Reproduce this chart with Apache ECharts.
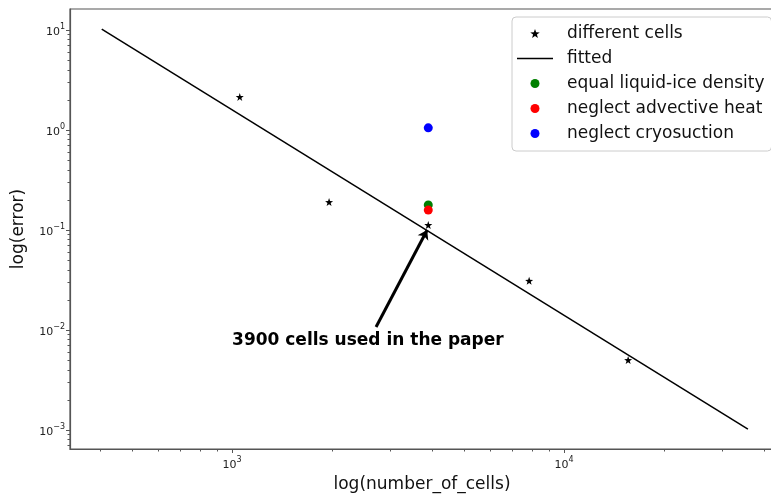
<!DOCTYPE html>
<html>
  <head>
    <meta charset="utf-8" />
    <title>log error vs number of cells</title>
    <script src="https://cdn.jsdelivr.net/npm/echarts@6/dist/echarts.min.js"></script>
  </head>
  <body style="margin: 0">
    <div id="main" style="width: 771px; height: 496px"></div>
    <script>
      // values
      var cellsData = [
        [1055, 2.14],
        [1960, 0.19],
        [3900, 0.112],
        [7850, 0.031],
        [15600, 0.005],
      ];
      var fittedData = [
        [405, 10.2],
        [35800, 0.00102],
      ];
      var equalDensity = [[3900, 0.178]];
      var noAdvective = [[3900, 0.158]];
      var noCryosuction = [[3900, 1.05]];

      // annotation: text anchor and arrow ends (data coords)
      var noteText = "3900 cells used in the paper";
      var noteAt = [1000, 0.007];
      var arrowFrom = [2715, 0.0107];
      var arrowTo = [3870, 0.1];

      // axis range and ticks
      var xRange = [325, 42900];
      var yRange = [0.000646, 16.2];
      var xMajor = [1000, 10000];
      var xMinor = [400, 500, 600, 700, 800, 900, 2000, 3000, 4000, 5000, 6000, 7000, 8000, 9000, 20000, 30000, 40000];
      var yMajor = [0.001, 0.01, 0.1, 1, 10];
      var yMinor = [
        0.0007, 0.0008, 0.0009,
        0.002, 0.003, 0.004, 0.005, 0.006, 0.007, 0.008, 0.009,
        0.02, 0.03, 0.04, 0.05, 0.06, 0.07, 0.08, 0.09,
        0.2, 0.3, 0.4, 0.5, 0.6, 0.7, 0.8, 0.9,
        2, 3, 4, 5, 6, 7, 8, 9,
      ];

      var legendNames = [
        "different cells",
        "fitted",
        "equal liquid-ice density",
        "neglect advective heat",
        "neglect cryosuction",
      ];

      var starPath =
        "path://M0,-10 L2.35,-3.24 L9.51,-3.09 L3.8,1.24 L5.88,8.09 L0,4 L-5.88,8.09 L-3.8,1.24 L-9.51,-3.09 L-2.35,-3.24 Z";
      var lineIcon = "path://M0,0 L36,0 L36,1.6 L0,1.6 Z";
      var font = "DejaVu Sans";
      var frameColor = "#555";

      function powLabel(value) {
        var e = Math.round(Math.log10(value));
        return "{b|10}{s|" + String(e).replace("-", "\u2212") + "}";
      }
      var richTick = {
        b: { fontSize: 11, fontFamily: font, color: "#222", lineHeight: 15, verticalAlign: "bottom" },
        s: { fontSize: 8, fontFamily: font, color: "#222", lineHeight: 9, verticalAlign: "top" },
      };

      var option = {
        animation: false,
        grid: {
          left: 70,
          top: 9,
          right: -3,
          bottom: 47,
          show: true,
          borderColor: frameColor,
          borderWidth: 1.2,
          backgroundColor: "#fff",
          outerBoundsMode: "none",
        },
        legend: {
          orient: "vertical",
          left: 512,
          top: 17,
          padding: [8, 7, 9, 5],
          itemWidth: 36,
          itemHeight: 9,
          itemGap: 8,
          backgroundColor: "#fff",
          borderColor: "#ccc",
          borderWidth: 1,
          borderRadius: 4,
          textStyle: {
            fontFamily: font,
            fontSize: 17,
            color: "#111",
            padding: [0, 0, 0, 9],
          },
          data: [
            { name: legendNames[0], icon: starPath },
            { name: legendNames[1], icon: lineIcon },
            { name: legendNames[2], icon: "circle" },
            { name: legendNames[3], icon: "circle" },
            { name: legendNames[4], icon: "circle" },
          ],
        },
        xAxis: [
          {
            type: "log",
            logBase: 10,
            min: xRange[0],
            max: xRange[1],
            name: "log(number_of_cells)",
            nameLocation: "middle",
            nameGap: 24,
            nameTextStyle: { fontFamily: font, fontSize: 17, color: "#111" },
            axisLine: { lineStyle: { color: frameColor, width: 1.2 } },
            axisTick: { customValues: xMajor, length: 4, lineStyle: { color: frameColor } },
            axisLabel: { customValues: xMajor, margin: 7, formatter: powLabel, rich: richTick },
            splitLine: { show: false },
          },
          {
            type: "log",
            logBase: 10,
            min: xRange[0],
            max: xRange[1],
            position: "bottom",
            axisLine: { show: false },
            axisTick: { customValues: xMinor, length: 2.5, lineStyle: { color: frameColor } },
            axisLabel: { show: false },
            splitLine: { show: false },
          },
        ],
        yAxis: [
          {
            type: "log",
            logBase: 10,
            min: yRange[0],
            max: yRange[1],
            name: "log(error)",
            nameLocation: "middle",
            nameGap: 43,
            nameRotate: 90,
            nameTextStyle: { fontFamily: font, fontSize: 17, color: "#111" },
            axisLine: { show: true, lineStyle: { color: frameColor, width: 1.2 } },
            axisTick: { show: true, customValues: yMajor, length: 4, lineStyle: { color: frameColor } },
            axisLabel: { customValues: yMajor, margin: 5, formatter: powLabel, rich: richTick },
            splitLine: { show: false },
          },
          {
            type: "log",
            logBase: 10,
            min: yRange[0],
            max: yRange[1],
            position: "left",
            axisLine: { show: false },
            axisTick: { show: true, customValues: yMinor, length: 2.5, lineStyle: { color: frameColor } },
            axisLabel: { show: false },
            splitLine: { show: false },
          },
        ],
        series: [
          {
            name: legendNames[1],
            type: "line",
            data: fittedData,
            symbol: "none",
            lineStyle: { color: "#000", width: 1.5 },
            itemStyle: { color: "#000" },
            silent: true,
            z: 2,
          },
          {
            name: legendNames[0],
            type: "scatter",
            data: cellsData,
            symbol: starPath,
            symbolSize: 8,
            itemStyle: { color: "#000", opacity: 1 },
            z: 3,
          },
          {
            name: legendNames[2],
            type: "scatter",
            data: equalDensity,
            symbolSize: 9,
            itemStyle: { color: "#008000", opacity: 1 },
            z: 3,
          },
          {
            name: legendNames[3],
            type: "scatter",
            data: noAdvective,
            symbolSize: 9,
            itemStyle: { color: "#ff0000", opacity: 1 },
            z: 3,
          },
          {
            name: legendNames[4],
            type: "scatter",
            data: noCryosuction,
            symbolSize: 9,
            itemStyle: { color: "#0000ff", opacity: 1 },
            z: 3,
          },
          {
            name: "annotation",
            type: "scatter",
            data: [],
            silent: true,
            z: 4,
            markLine: {
              silent: true,
              animation: false,
              symbol: ["none", "arrow"],
              symbolSize: 9,
              label: { show: false },
              lineStyle: { color: "#000", width: 3, type: "solid" },
              data: [[{ coord: arrowFrom }, { coord: arrowTo }]],
            },
            markPoint: {
              silent: true,
              animation: false,
              symbol: "circle",
              symbolSize: 0,
              label: {
                show: true,
                position: [0, 0],
                align: "left",
                verticalAlign: "bottom",
                offset: [0, 4],
                formatter: noteText,
                fontFamily: font,
                fontWeight: "bold",
                fontSize: 17,
                color: "#000",
              },
              data: [{ coord: noteAt }],
            },
          },
        ],
      };

      var myChart = echarts.init(document.getElementById("main"));
      myChart.setOption(option);
    </script>
  </body>
</html>
